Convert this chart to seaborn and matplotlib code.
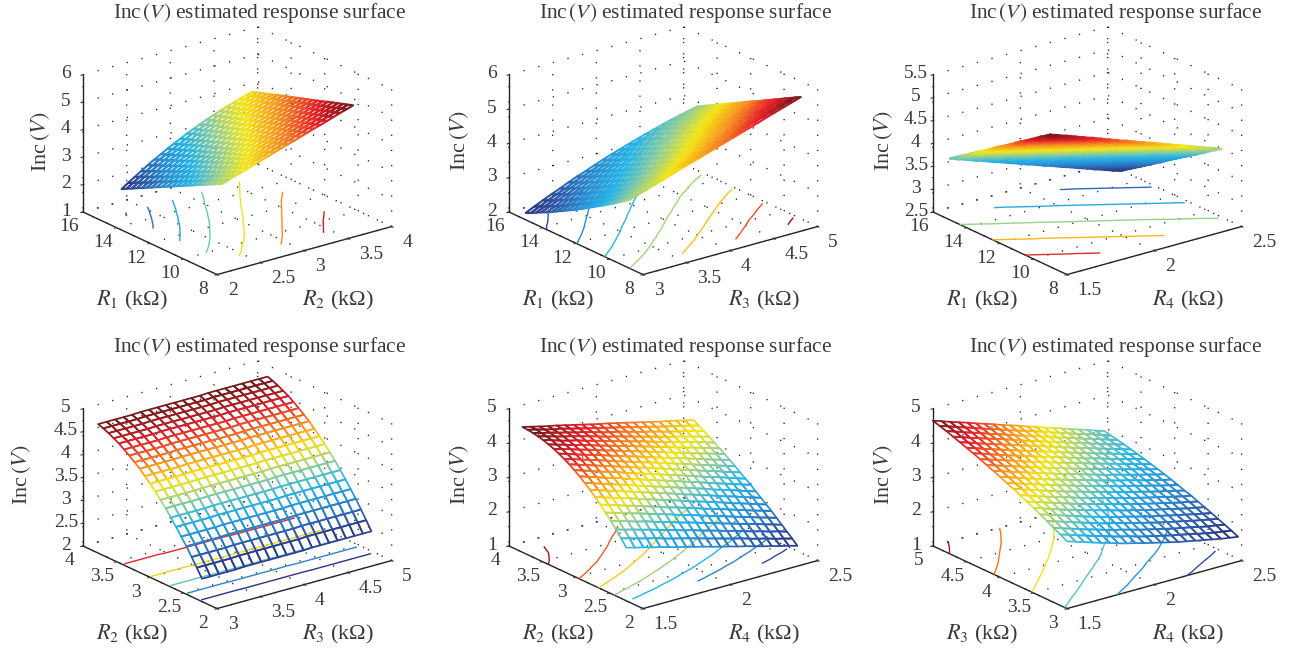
import numpy as np
import matplotlib
matplotlib.use("Agg")
import matplotlib.pyplot as plt
from matplotlib.ticker import FormatStrFormatter
from mpl_toolkits.mplot3d import proj3d
import seaborn as sns

sns.set_theme(style="white")
plt.rcParams['font.family'] = ['Liberation Serif', 'DejaVu Serif']
plt.rcParams['mathtext.fontset'] = 'stix'

W, H = 1295, 650
TEXT = '#3a3a3a'

jet_like = sns.blend_palette(['#2b2f80', '#2f5cab', '#2a8fd4', '#27b4e8', '#8fce9a',
                              '#f5e714', '#f88f20', '#e6202a', '#6b1717'],
                             n_colors=256, as_cmap=True)

r1_ticks = [8, 10, 12, 14, 16]
r2_ticks = [2, 2.5, 3, 3.5, 4]
r3_ticks = [3, 3.5, 4, 4.5, 5]
r4_ticks = [1.5, 2, 2.5]

inc_r2_r1 = [
[380,388,396,403,411,419,427,434,442,450,458,465,473,481,489,496,504,512,520,527,535],
[371,379,387,395,403,411,420,427,435,443,451,459,467,475,483,490,498,506,514,521,529],
[361,370,379,386,395,404,412,420,428,437,445,452,460,469,477,484,492,500,508,515,523],
[352,361,370,378,387,396,405,413,421,430,438,446,454,463,471,478,486,494,502,509,517],
[342,352,361,370,379,388,397,405,414,423,432,439,448,456,465,472,480,488,496,503,511],
[333,342,352,361,371,381,390,398,407,416,425,433,442,450,458,466,474,482,490,497,505],
[323,333,344,353,363,373,382,391,400,410,419,427,435,444,452,460,468,476,484,491,498],
[314,324,335,345,355,365,375,384,393,403,412,420,429,438,446,454,462,470,478,485,492],
[304,315,326,336,347,357,367,377,386,396,406,414,423,432,440,448,456,464,472,479,486],
[295,306,317,328,339,350,360,370,379,389,399,407,417,426,434,442,450,458,466,473,480],
[285,297,308,320,331,342,352,362,372,382,392,401,410,419,428,436,444,452,460,467,474],
[276,288,300,311,323,334,345,355,366,376,386,395,404,413,422,430,438,446,454,461,468],
[266,279,291,303,315,327,338,348,359,369,379,388,398,407,416,424,432,440,448,455,462],
[257,270,282,294,307,319,330,341,352,362,373,382,392,401,410,418,426,434,442,449,456],
[247,261,273,286,299,311,323,334,345,355,366,375,385,395,404,412,420,428,436,443,450],
[238,251,265,278,291,303,315,327,338,349,360,369,379,389,397,406,414,422,430,437,444],
[228,242,256,269,283,296,308,320,331,342,353,363,373,383,391,400,408,416,424,431,437],
[219,233,247,261,275,288,300,312,324,335,347,356,367,376,385,394,402,410,418,425,431],
[209,224,239,253,267,280,293,305,317,328,340,350,360,370,379,388,396,404,412,419,425],
[200,215,230,244,259,273,285,298,310,322,334,343,354,364,373,382,390,398,406,413,419],
[190,206,221,236,251,265,278,291,303,315,327,337,348,358,367,376,384,392,400,407,413]]

inc_r3_r1 = [
[400,408,416,424,432,440,449,457,465,473,481,489,497,505,513,521,530,538,546,554,562],
[389,398,406,414,422,431,440,448,456,464,472,480,488,496,505,513,522,530,538,546,554],
[379,387,396,404,413,422,430,439,447,455,463,472,480,488,496,505,513,521,529,537,545],
[368,377,386,395,403,412,421,430,438,446,455,463,471,480,488,496,505,513,521,529,537],
[358,367,376,385,394,403,412,421,429,438,446,455,463,471,479,488,497,505,512,520,528],
[348,358,367,376,385,394,403,412,421,429,438,446,455,463,471,480,488,496,504,512,520],
[339,348,357,367,376,385,395,403,412,421,429,438,446,455,463,472,480,488,496,504,511],
[329,339,348,358,367,376,386,395,404,412,421,430,438,447,455,464,472,480,487,495,503],
[320,329,339,349,358,368,377,386,395,404,413,422,430,438,447,455,463,471,479,487,494],
[310,320,330,340,350,359,369,378,387,396,405,413,422,430,439,447,455,463,471,478,486],
[301,311,321,331,341,351,361,370,379,388,397,406,414,422,431,439,447,455,463,470,478],
[292,303,313,323,333,343,353,362,371,380,389,398,406,414,423,431,439,447,454,462,469],
[284,294,304,315,325,335,345,354,363,372,381,390,398,407,415,423,431,439,446,454,461],
[275,286,296,306,317,327,337,346,355,364,373,382,391,399,407,415,423,431,438,445,452],
[267,277,288,298,309,319,329,338,348,357,366,374,383,391,399,408,415,423,430,437,444],
[258,269,280,291,301,311,321,331,340,349,358,367,375,383,391,400,407,414,422,429,435],
[250,261,272,283,293,304,314,323,333,342,351,359,368,376,384,392,399,406,413,420,427],
[243,254,265,275,286,296,306,316,325,334,343,352,360,368,376,384,391,398,405,412,418],
[235,246,257,268,279,289,299,308,318,327,336,344,353,361,369,377,384,390,397,404,410],
[227,239,250,261,271,282,292,301,311,320,329,337,345,353,361,369,376,383,389,395,401],
[220,232,243,254,264,275,285,294,304,313,322,330,338,346,354,361,368,375,381,387,393]]

inc_r4_r1 = [
[539,532,526,519,512,506,499,492,485,479,472,465,459,452,445,439,432,425,418,412,405],
[531,525,518,511,505,498,491,484,478,471,464,458,451,444,438,431,424,417,411,404,397],
[524,517,510,503,497,490,483,477,470,463,457,450,443,437,430,423,417,410,403,397,390],
[516,509,502,496,489,482,476,469,462,456,449,442,436,429,422,416,409,402,396,389,382],
[508,501,495,488,481,475,468,461,455,448,441,435,428,421,415,408,401,395,388,381,375],
[500,494,487,480,474,467,460,454,447,440,434,427,420,414,407,401,394,387,381,374,367],
[493,486,479,473,466,459,453,446,439,433,426,419,413,406,400,393,386,380,373,366,360],
[485,478,472,465,458,452,445,438,432,425,418,412,405,399,392,385,379,372,365,359,352],
[477,470,464,457,451,444,437,431,424,417,411,404,398,391,384,378,371,364,358,351,345],
[469,463,456,449,443,436,430,423,416,410,403,397,390,383,377,370,363,357,350,344,337],
[462,455,448,442,435,429,422,415,409,402,396,389,382,376,369,363,356,349,343,336,330],
[454,447,441,434,427,421,414,408,401,394,388,381,375,368,362,355,348,342,335,329,322],
[446,439,433,426,420,413,407,400,393,387,380,374,367,360,354,347,341,334,328,321,314],
[438,432,425,418,412,405,399,392,386,379,373,366,359,353,346,340,333,327,320,313,307],
[431,424,417,411,404,398,391,385,378,371,365,358,352,345,339,332,326,319,312,306,299],
[423,416,410,403,397,390,383,377,370,364,357,351,344,338,331,324,318,311,305,298,292],
[415,408,402,395,389,382,376,369,363,356,350,343,337,330,323,317,310,304,297,291,284],
[407,401,394,388,381,375,368,362,355,348,342,335,329,322,316,309,303,296,290,283,277],
[400,393,386,380,373,367,360,354,347,341,334,328,321,315,308,302,295,289,282,276,269],
[392,385,379,372,366,359,353,346,340,333,327,320,314,307,301,294,288,281,275,268,262],
[384,377,371,364,358,351,345,338,332,325,319,312,306,299,293,286,280,273,267,260,254]]

inc_r3_r2 = [
[247,247,247,247,247,248,248,248,248,248,248,248,248,249,249,249,249,249,249,249,249],
[266,266,266,266,266,267,267,267,267,267,267,267,267,268,268,268,268,268,268,268,268],
[284,284,284,284,284,285,285,285,285,285,285,285,285,286,286,286,286,286,286,286,286],
[302,302,302,302,302,303,303,303,303,303,303,303,303,304,304,304,304,304,304,304,304],
[318,318,318,318,318,319,319,319,319,319,319,319,319,320,320,320,320,320,320,320,320],
[334,334,334,334,334,335,335,335,335,335,335,335,335,336,336,336,336,336,336,336,336],
[349,349,349,349,349,350,350,350,350,350,350,350,350,351,351,351,351,351,351,351,351],
[364,364,364,364,364,365,365,365,365,365,365,365,365,366,366,366,366,366,366,366,366],
[377,377,377,377,377,378,378,378,378,378,378,378,378,379,379,379,379,379,379,379,379],
[390,390,390,390,390,391,391,391,391,391,391,391,391,392,392,392,392,392,392,392,392],
[402,402,402,402,402,403,403,403,403,403,403,403,403,404,404,404,404,404,404,404,404],
[413,413,413,413,413,414,414,414,414,414,414,414,414,415,415,415,415,415,415,415,415],
[424,424,424,424,424,425,425,425,425,425,425,425,425,426,426,426,426,426,426,426,426],
[433,433,433,433,433,434,434,434,434,434,434,434,434,435,435,435,435,435,435,435,435],
[442,442,442,442,442,443,443,443,443,443,443,443,443,444,444,444,444,444,444,444,444],
[450,450,450,450,450,451,451,451,451,451,451,451,451,452,452,452,452,452,452,452,452],
[458,458,458,458,458,459,459,459,459,459,459,459,459,460,460,460,460,460,460,460,460],
[464,464,464,464,464,465,465,465,465,465,465,465,465,466,466,466,466,466,466,466,466],
[470,470,470,470,470,471,471,471,471,471,471,471,471,472,472,472,472,472,472,472,472],
[475,475,475,475,475,476,476,476,476,476,476,476,476,477,477,477,477,477,477,477,477],
[479,479,479,479,479,480,480,480,480,480,480,480,480,481,481,481,481,481,481,481,481]]

inc_r4_r2 = [
[255,248,242,235,229,222,215,209,202,196,189,182,176,169,163,156,149,143,136,130,123],
[275,268,261,254,248,240,233,227,220,213,206,199,192,185,179,171,164,158,150,144,137],
[294,286,280,272,266,258,251,244,236,230,222,215,208,200,194,186,178,172,164,158,150],
[312,304,297,289,283,275,267,260,252,245,238,230,223,215,208,200,193,186,178,171,163],
[329,321,314,306,299,291,283,276,268,260,253,245,237,229,222,214,206,199,191,184,176],
[345,337,330,321,314,306,298,290,282,275,267,259,251,243,236,228,220,212,204,197,189],
[360,352,344,336,329,320,312,305,296,289,281,272,265,257,249,241,232,225,217,209,201],
[374,366,358,350,342,334,326,318,310,302,294,285,278,269,262,253,245,238,229,222,213],
[387,379,371,362,355,347,338,330,322,314,306,298,290,282,274,265,257,250,241,233,225],
[399,391,383,374,367,359,350,342,334,326,318,310,302,293,286,277,269,261,253,245,237],
[410,402,394,385,378,370,361,353,345,337,329,321,313,305,297,288,280,273,264,256,248],
[420,412,404,396,388,380,372,364,356,348,340,332,324,315,308,299,291,284,275,267,259],
[429,421,413,405,398,389,381,373,365,357,350,342,334,326,318,310,301,294,286,278,270],
[437,429,421,413,406,398,390,382,374,367,359,351,343,335,328,320,312,304,296,289,281],
[444,436,429,421,414,406,398,391,383,375,368,360,352,345,337,329,321,314,307,299,291],
[450,442,435,427,421,413,405,398,390,383,376,368,361,353,346,338,331,324,316,309,301],
[455,448,440,433,427,419,412,405,397,390,383,376,369,361,354,347,339,333,326,318,311],
[459,452,445,438,432,425,418,411,403,397,390,383,376,369,362,355,348,342,335,328,321],
[462,455,449,442,436,429,423,416,409,402,397,390,383,376,370,363,356,350,344,337,330],
[464,458,451,445,440,433,427,420,414,408,402,396,389,383,377,370,364,358,352,346,339],
[465,459,453,447,442,436,430,424,418,412,407,401,395,389,383,377,371,366,360,354,348]]

inc_r4_r3 = [
[296,288,280,272,264,257,249,242,236,229,223,217,211,205,200,195,190,185,180,176,172],
[307,299,291,283,275,268,260,253,247,239,233,227,221,215,210,205,199,194,189,185,181],
[317,309,301,293,285,278,270,263,257,250,243,237,231,225,219,214,209,203,198,194,189],
[328,320,312,304,296,288,280,273,267,260,253,247,241,234,229,223,218,212,207,202,197],
[338,330,322,314,306,298,290,283,276,269,263,256,250,243,238,232,226,221,215,210,205],
[348,340,331,323,315,308,300,293,286,279,272,265,259,252,246,241,235,229,223,218,213],
[357,349,341,333,325,317,309,302,295,288,281,274,268,261,255,249,243,237,231,226,220],
[367,359,350,342,334,327,319,311,304,297,290,283,276,269,263,257,251,245,239,233,228],
[376,368,359,351,343,335,327,320,313,305,299,291,285,277,271,265,258,252,246,240,234],
[384,376,368,360,352,344,336,329,321,314,307,300,293,285,279,273,266,260,253,247,241],
[393,385,376,368,360,352,344,337,329,322,315,307,300,293,286,280,273,266,260,253,248],
[401,393,385,377,369,361,353,345,337,330,323,315,308,300,294,287,280,273,267,260,254],
[409,401,393,385,377,369,361,353,345,338,330,323,315,308,301,294,287,280,273,266,260],
[417,409,401,393,385,376,368,361,353,345,338,330,323,315,308,301,293,286,279,272,265],
[425,417,408,400,392,384,376,368,360,352,345,337,329,321,314,307,299,292,285,278,271],
[432,424,415,407,399,391,383,375,367,359,352,343,336,328,320,313,305,298,291,283,276],
[439,431,422,414,406,398,390,382,374,366,358,350,342,334,326,319,311,303,296,288,281],
[446,438,429,421,413,405,397,389,380,372,365,356,348,340,332,325,316,309,301,293,286],
[453,445,436,428,420,411,403,395,386,378,371,362,354,345,338,330,321,314,306,298,290],
[459,451,442,434,426,417,409,401,392,384,376,368,360,351,343,335,326,319,311,302,294],
[465,457,448,440,432,423,415,407,398,390,382,373,365,356,348,340,331,323,315,306,298]]

panels = [
    dict(z=inc_r2_r1, xr=(2.25,3.75), yr=(9,15),   xl=(2,4),   yl=(8,16), zl=(1,6),
         xt=r2_ticks, yt=r1_ticks, zt=[1,2,3,4,5,6], xn=r'$R_2$', yn=r'$R_1$', lv=[2,2.5,3,3.5,4,4.5,5],
         ox=0, oy=0, zpad=-4, tx=0, lw=1.5),
    dict(z=inc_r3_r1, xr=(3,4.96), yr=(8.8,15),    xl=(3,5),   yl=(8,16), zl=(2,6),
         xt=r3_ticks, yt=r1_ticks, zt=[2,3,4,5,6], xn=r'$R_3$', yn=r'$R_1$', lv=[2.5,3,3.5,4,4.5,5,5.5],
         ox=426, oy=0, zpad=-1, tx=0, lw=1.5),
    dict(z=inc_r4_r1, xr=(1.5,2.48), yr=(9,15),    xl=(1.5,2.5), yl=(8,16), zl=(2.5,5.5),
         xt=r4_ticks, yt=r1_ticks, zt=[2.5,3,3.5,4,4.5,5,5.5], xn=r'$R_4$', yn=r'$R_1$', lv=[3,3.5,4,4.5,5],
         ox=850, oy=0, zpad=-1, tx=6, lw=1.5),
    dict(z=inc_r3_r2, xr=(3.02,4.96), yr=(2.25,3.8), xl=(3,5), yl=(2,4), zl=(2,5),
         xt=r3_ticks, yt=r2_ticks, zt=[2,2.5,3,3.5,4,4.5,5], xn=r'$R_3$', yn=r'$R_2$', lv=[2.5,3,3.5,4,4.5],
         ox=0, oy=334, zpad=4, tx=0, lw=1.25),
    dict(z=inc_r4_r2, xr=(1.5,2.48), yr=(2.25,3.8), xl=(1.5,2.5), yl=(2,4), zl=(1,5),
         xt=r4_ticks, yt=r2_ticks, zt=[1,2,3,4,5], xn=r'$R_4$', yn=r'$R_2$', lv=[1.5,2,2.5,3,3.5,4,4.5],
         ox=426, oy=334, zpad=-1, tx=0, lw=1.25),
    dict(z=inc_r4_r3, xr=(1.5,2.48), yr=(3,5),     xl=(1.5,2.5), yl=(3,5), zl=(1,5),
         xt=r4_ticks, yt=r3_ticks, zt=[1,2,3,4,5], xn=r'$R_4$', yn=r'$R_3$', lv=[2,2.5,3,3.5,4,4.5],
         ox=850, oy=334, zpad=-1, tx=6, lw=1.25),
]

TITLE = r'Inc$\,(V)$ estimated response surface'


def place(ax, p):
    """Scale and move the 3D axes so the box corners land where the reference has them."""
    M = ax.get_proj()
    x0 = p['xl'][0]; y0, y1 = p['yl']; z0 = p['zl'][0]
    ul, vl, _ = proj3d.proj_transform(x0, y1, z0, M)
    uf, vf, _ = proj3d.proj_transform(x0, y0, z0, M)
    fl = ax.transLimits.transform((ul, vl))
    ff = ax.transLimits.transform((uf, vf))
    S = (217 - 83) / (ff[0] - fl[0])
    left = 83 + p['ox'] - S * fl[0]
    bottom = (H - 212 - p['oy']) - S * fl[1]
    ax.set_position([left / W, bottom / H, S / W, S / H])


fig = plt.figure(figsize=(W / 100, H / 100), dpi=100)

for p in panels:
    ax = fig.add_subplot(projection='3d', computed_zorder=False, proj_type='ortho')
    ax.view_init(elev=21, azim=-127.5)
    ax.set_box_aspect((1, 1, 0.668))
    ax.set_facecolor('none')

    Z = np.array(p['z']) / 100.0
    ny, nx = Z.shape
    X, Y = np.meshgrid(np.linspace(*p['xr'], nx), np.linspace(*p['yr'], ny))
    vmin, vmax = Z.min(), Z.max()
    norm = plt.Normalize(vmin, vmax)

    ax.contour(X, Y, Z, levels=p['lv'], zdir='z', offset=p['zl'][0], cmap=jet_like,
               norm=norm, linewidths=1.0, zorder=1)
    surf = ax.plot_surface(X, Y, Z, rstride=1, cstride=1, color='none', shade=False,
                           linewidth=p['lw'], antialiased=True, zorder=2)
    mean = (Z[:-1, :-1] + Z[1:, :-1] + Z[:-1, 1:] + Z[1:, 1:]) / 4
    surf.set_edgecolors(jet_like(norm(mean)).reshape(-1, 4))

    ax.set_xlim(*p['xl']); ax.set_ylim(*p['yl']); ax.set_zlim(*p['zl'])
    ax.set_xticks(p['xt']); ax.set_yticks(p['yt']); ax.set_zticks(p['zt'])
    for axis in (ax.xaxis, ax.yaxis, ax.zaxis):
        axis.set_pane_color((1, 1, 1, 0))
        axis.pane.set_edgecolor((1, 1, 1, 0))
        axis.line.set_color('#222222')
        axis.line.set_linewidth(1.0)
        axis.set_major_formatter(FormatStrFormatter('%g'))
        axis._axinfo['grid'].update(color='#222222', linewidth=1.0, linestyle=(0, (0.9, 10)))
        axis._axinfo['tick'].update(inward_factor=0.15, outward_factor=0.0, linewidth={True: 0.8, False: 0.5})
        axis.set_rotate_label(False)
    ax.yaxis._axinfo['label'].update(ha='left', va='center')
    ax.tick_params(axis='x', labelsize=14, colors=TEXT, pad=2)
    ax.tick_params(axis='y', labelsize=14, colors=TEXT, pad=2)
    ax.tick_params(axis='z', labelsize=14, colors=TEXT, pad=-1)
    for lab in ax.get_xticklabels():
        lab.set_ha('left'); lab.set_va('center')
    for lab in ax.get_yticklabels():
        lab.set_ha('center'); lab.set_va('center')
    for lab in ax.get_zticklabels():
        lab.set_va('center')
    ax.set_xlabel(p['xn'] + ' (kΩ)', fontsize=16, color=TEXT, labelpad=10, rotation=0)
    ax.set_ylabel(p['yn'] + ' (kΩ)', fontsize=16, color=TEXT, labelpad=18, rotation=0)
    ax.set_zlabel(r'Inc$\,(V)$', fontsize=16, color=TEXT, rotation=90, labelpad=p['zpad'])

    t = ax.set_title(TITLE, fontsize=15.4, color=TEXT, y=1.0)
    t.set_transform(fig.transFigure)
    t.set_position(((259 + p['ox'] + p['tx']) / W, 1 - (13 + p['oy']) / H))
    t.set_va('center'); t.set_ha('center')

    place(ax, p)

fig.savefig('out.png', dpi=100)
